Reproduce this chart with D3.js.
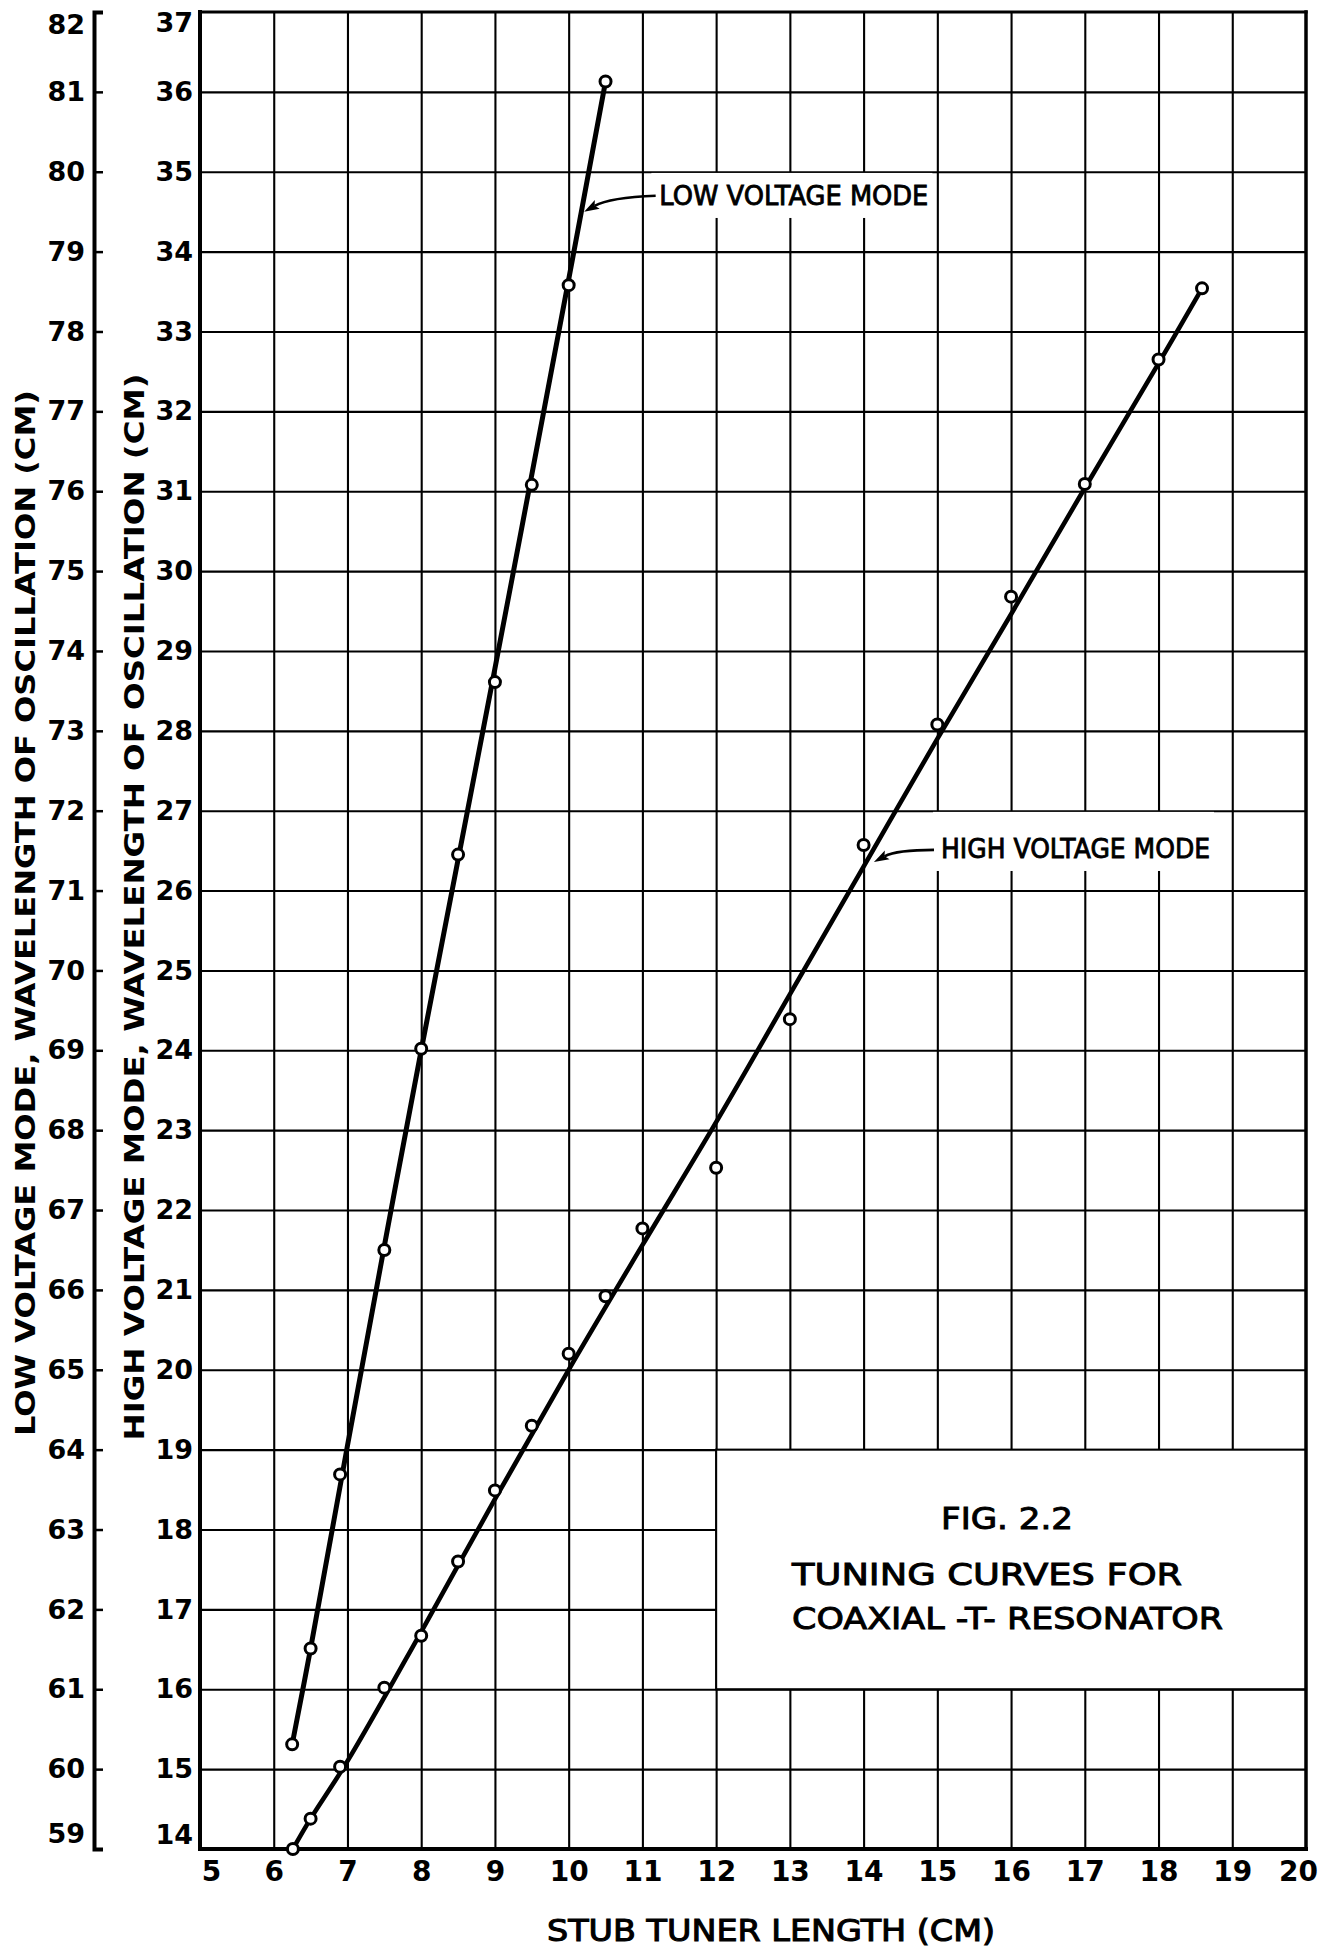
<!DOCTYPE html>
<html><head><meta charset="utf-8">
<script src="https://cdn.jsdelivr.net/npm/d3@7"></script>
<style>
html,body{margin:0;padding:0;background:#fff;}
svg{display:block;}
</style></head><body>
<svg id="chart" width="1319" height="1953"></svg>
<script>
// ---------------- data ----------------
const xTicks = [5,6,7,8,9,10,11,12,13,14,15,16,17,18,19,20];
const yHighTicks = [14,15,16,17,18,19,20,21,22,23,24,25,26,27,28,29,30,31,32,33,34,35,36,37];
const yLowTicks = [59,60,61,62,63,64,65,66,67,68,69,70,71,72,73,74,75,76,77,78,79,80,81,82];

// measured points, low voltage mode (left outer scale)
const lowX = [6.25, 6.5, 6.9, 7.5, 8.0, 8.5, 9.0, 9.5, 10.0, 10.5];
const lowY = [60.31, 61.51, 63.69, 66.5, 69.02, 71.45, 73.61, 76.08, 78.58, 81.13];
// measured points, high voltage mode (inner scale)
const highX = [6.26, 6.5, 6.9, 7.5, 8.0, 8.5, 9.0, 9.5, 10.0, 10.5, 11.0, 12.0, 13.0, 14.0, 15.0, 16.0, 17.0, 18.0, 18.59];
const highY = [14.0, 14.38, 15.03, 16.02, 16.67, 17.6, 18.49, 19.3, 20.2, 20.92, 21.77, 22.53, 24.39, 26.57, 28.08, 29.68, 31.09, 32.65, 33.54];

// drawn (faired) curves
const lowCurveX = [6.25, 6.5, 7.0, 7.5, 8.0, 9.0, 10.0, 10.5];
const lowCurveY = [60.31, 61.51, 64.05, 66.55, 69.0, 73.78, 78.65, 81.13];
const highCurveX = [6.26, 6.5, 7.0, 8.0, 9.0, 10.0, 11.0, 12.0, 13.0, 14.0, 15.0, 16.0, 17.0, 18.0, 18.59];
const highCurveY = [14.0, 14.38, 15.1, 16.72, 18.38, 20.0, 21.56, 23.1, 24.7, 26.3, 27.9, 29.46, 31.04, 32.6, 33.54];

const seriesNames = ["LOW VOLTAGE MODE", "HIGH VOLTAGE MODE"];
const titleLines = ["FIG. 2.2", "TUNING CURVES FOR", "COAXIAL -T- RESONATOR"];
const xTitle = "STUB TUNER LENGTH (CM)";
const yLowTitle = "LOW VOLTAGE MODE, WAVELENGTH OF OSCILLATION (CM)";
const yHighTitle = "HIGH VOLTAGE MODE, WAVELENGTH OF OSCILLATION (CM)";

// ---------------- layout ----------------
const FONT = "'DejaVu Sans', sans-serif";
const pLeft = 200, pRight = 1306, pTop = 12, pBottom = 1849;
const outerAxisX = 94;

const svg = d3.select('#chart');
svg.append('rect').attr('width',1319).attr('height',1953).attr('fill','#fff');

const x = d3.scaleLinear().domain([xTicks[0], xTicks[xTicks.length-1]]).range([pLeft, pRight]);
const yH = d3.scaleLinear().domain([yHighTicks[0], yHighTicks[yHighTicks.length-1]]).range([pBottom, pTop]);
const yL = d3.scaleLinear().domain([yLowTicks[0], yLowTicks[yLowTicks.length-1]]).range([pBottom, pTop]);

// ---------------- grid ----------------
const gridX = svg.append('g').attr('transform', `translate(0,${pBottom})`)
  .call(d3.axisBottom(x).tickValues(xTicks.slice(1,-1)).tickSize(-(pBottom-pTop)).tickSizeOuter(0).tickFormat(''));
gridX.select('.domain').remove();
gridX.selectAll('line').attr('stroke','#000').attr('stroke-width',2.1);

const gridY = svg.append('g').attr('transform', `translate(${pLeft},0)`)
  .call(d3.axisLeft(yH).tickValues(yHighTicks.slice(1,-1)).tickSize(-(pRight-pLeft)).tickSizeOuter(0).tickFormat(''));
gridY.select('.domain').remove();
gridY.selectAll('line').attr('stroke','#000').attr('stroke-width',2.1);

// ---------------- title box (blank panel in grid) ----------------
svg.append('rect')
  .attr('x', x(12)).attr('y', yH(19))
  .attr('width', x(20)-x(12)).attr('height', yH(16)-yH(19))
  .attr('fill','#fff').attr('stroke','#000').attr('stroke-width',2.1);

const tl = svg.append('g').attr('font-family', FONT).attr('font-size', 31)
  .attr('fill','#000').attr('stroke','#000').attr('stroke-width',1);
const titlePos = [[15.05, 18.007, 132],[13.03, 17.31, 390],[13.03, 16.76, 431]];
titleLines.forEach((t,i)=>{
  tl.append('text').attr('x', x(titlePos[i][0])).attr('y', yH(titlePos[i][1]))
    .attr('textLength', titlePos[i][2]).attr('lengthAdjust','spacingAndGlyphs').text(t);
});

// ---------------- series annotations (white patch + arrow) ----------------
const notes = [
  {text: seriesNames[0], tx: 11.23, ty: 34.584, w: 269, cellTop: 35, tail:[11.18,34.70], ctrl:[10.56,34.68], tip:[10.21,34.50]},
  {text: seriesNames[1], tx: 15.05, ty: 26.408, w: 269, cellTop: 27, tail:[14.955,26.51], ctrl:[14.45,26.51], tip:[14.14,26.358]}
];
notes.forEach(n=>{
  const bx0 = x(n.tx) - 8, bx1 = x(n.tx) + n.w + 4;
  const by0 = yH(n.cellTop) + 1.2, by1 = yH(n.ty) + 13;
  svg.append('rect').attr('x',bx0).attr('y',by0).attr('width',bx1-bx0).attr('height',by1-by0).attr('fill','#fff');
});

// ---------------- frame ----------------
const frame = svg.append('g').attr('stroke','#000').attr('stroke-linecap','square');
frame.append('line').attr('x1',x(5)).attr('x2',x(5)).attr('y1',yH(37)).attr('y2',yH(14)).attr('stroke-width',4);
frame.append('line').attr('x1',x(20)).attr('x2',x(20)).attr('y1',yH(37)).attr('y2',yH(14)).attr('stroke-width',3.5);
frame.append('line').attr('x1',x(5)).attr('x2',x(20)).attr('y1',yH(37)).attr('y2',yH(37)).attr('stroke-width',3.2);
frame.append('line').attr('x1',x(5)).attr('x2',x(20)).attr('y1',yH(14)).attr('y2',yH(14)).attr('stroke-width',4);

// ---------------- curves ----------------
const lowLine = d3.line().x(d=>x(d[0])).y(d=>yL(d[1])).curve(d3.curveCatmullRom.alpha(0.5));
const highLine = d3.line().x(d=>x(d[0])).y(d=>yH(d[1])).curve(d3.curveCatmullRom.alpha(0.5));
svg.append('path').attr('d', lowLine(lowCurveX.map((v,i)=>[v, lowCurveY[i]])))
  .attr('fill','none').attr('stroke','#000').attr('stroke-width',5).attr('stroke-linejoin','round');
svg.append('path').attr('d', highLine(highCurveX.map((v,i)=>[v, highCurveY[i]])))
  .attr('fill','none').attr('stroke','#000').attr('stroke-width',4.6).attr('stroke-linejoin','round');

// ---------------- points ----------------
svg.append('g').selectAll('circle').data(lowX.map((v,i)=>[v, lowY[i]])).join('circle')
  .attr('cx', d=>x(d[0])).attr('cy', d=>yL(d[1])).attr('r',5.5)
  .attr('fill','#fff').attr('stroke','#000').attr('stroke-width',3);
svg.append('g').selectAll('circle').data(highX.map((v,i)=>[v, highY[i]])).join('circle')
  .attr('cx', d=>x(d[0])).attr('cy', d=>yH(d[1])).attr('r',5.5)
  .attr('fill','#fff').attr('stroke','#000').attr('stroke-width',3);

// ---------------- annotation text + arrows ----------------
notes.forEach(n=>{
  svg.append('text').attr('x', x(n.tx)).attr('y', yH(n.ty))
    .attr('font-family', FONT).attr('font-size', 27).attr('fill','#000')
    .attr('stroke','#000').attr('stroke-width',0.9)
    .attr('textLength', n.w).attr('lengthAdjust','spacingAndGlyphs').text(n.text);
  const p0 = [x(n.tail[0]), yH(n.tail[1])], c = [x(n.ctrl[0]), yH(n.ctrl[1])], p1 = [x(n.tip[0]), yH(n.tip[1])];
  const dx = p1[0]-c[0], dy = p1[1]-c[1], L = Math.hypot(dx,dy), ux = dx/L, uy = dy/L;
  const hl = 15, hw = 5;
  const base = [p1[0]-ux*hl, p1[1]-uy*hl];
  svg.append('path').attr('d', `M${p0[0]},${p0[1]}Q${c[0]},${c[1]} ${base[0]+ux*3},${base[1]+uy*3}`)
    .attr('fill','none').attr('stroke','#000').attr('stroke-width',2.6);
  svg.append('path').attr('d', `M${p1[0]},${p1[1]}L${base[0]-uy*hw},${base[1]+ux*hw}L${base[0]+ux*3},${base[1]+uy*3}L${base[0]+uy*hw},${base[1]-ux*hw}Z`)
    .attr('fill','#000');
});

// ---------------- axes labels ----------------
const xAx = svg.append('g').attr('transform', `translate(0,${pBottom})`)
  .call(d3.axisBottom(x).tickValues(xTicks).tickSize(0).tickPadding(12).tickFormat(d3.format('d')));
xAx.select('.domain').remove();
xAx.selectAll('text').attr('font-family', FONT).attr('font-size', 28).attr('font-weight','bold').attr('fill','#000')
  .attr('dy','0.71em')
  .attr('dx', d => d === xTicks[0] ? 11 : (d === xTicks[xTicks.length-1] ? -8 : 0));

const yHAx = svg.append('g').attr('transform', `translate(${pLeft},0)`)
  .call(d3.axisLeft(yH).tickValues(yHighTicks).tickSize(0).tickPadding(7).tickFormat(d3.format('d')));
yHAx.select('.domain').remove();
yHAx.selectAll('text').attr('font-family', FONT).attr('font-size', 27).attr('font-weight','bold').attr('fill','#000')
  .attr('transform', d => d === yHighTicks[yHighTicks.length-1] ? 'translate(0,11)' : (d === yHighTicks[0] ? 'translate(0,-14)' : null));

const yLAx = svg.append('g').attr('transform', `translate(${outerAxisX},0)`)
  .call(d3.axisRight(yL).tickValues(yLowTicks).tickSize(9).tickSizeOuter(9).tickFormat(''));
yLAx.select('.domain').attr('stroke','#000').attr('stroke-width',4);
yLAx.selectAll('.tick line').attr('stroke','#000').attr('stroke-width',2.5);
const yLLab = svg.append('g').attr('transform', `translate(${outerAxisX-2},0)`)
  .call(d3.axisLeft(yL).tickValues(yLowTicks).tickSize(0).tickPadding(7).tickFormat(d3.format('d')));
yLLab.select('.domain').remove();
yLLab.selectAll('text').attr('font-family', FONT).attr('font-size', 27).attr('font-weight','bold').attr('fill','#000')
  .attr('transform', d => d === yLowTicks[yLowTicks.length-1] ? 'translate(0,13)' : (d === yLowTicks[0] ? 'translate(0,-15)' : null));

svg.append('text').attr('x', 771).attr('y', 1941).attr('text-anchor','middle')
  .attr('font-family', FONT).attr('font-size', 31).attr('fill','#000')
  .attr('stroke','#000').attr('stroke-width',1.1)
  .attr('textLength', 448).attr('lengthAdjust','spacingAndGlyphs').text(xTitle);

svg.append('text').attr('transform', `translate(25,913) rotate(-90)`).attr('text-anchor','middle')
  .attr('dominant-baseline','central')
  .attr('font-family', FONT).attr('font-size', 27).attr('font-weight','bold').attr('fill','#000')
  .attr('textLength', 1046).attr('lengthAdjust','spacingAndGlyphs').text(yLowTitle);
svg.append('text').attr('transform', `translate(134,907) rotate(-90)`).attr('text-anchor','middle')
  .attr('dominant-baseline','central')
  .attr('font-family', FONT).attr('font-size', 27).attr('font-weight','bold').attr('fill','#000')
  .attr('textLength', 1067).attr('lengthAdjust','spacingAndGlyphs').text(yHighTitle);
</script>
</body></html>
